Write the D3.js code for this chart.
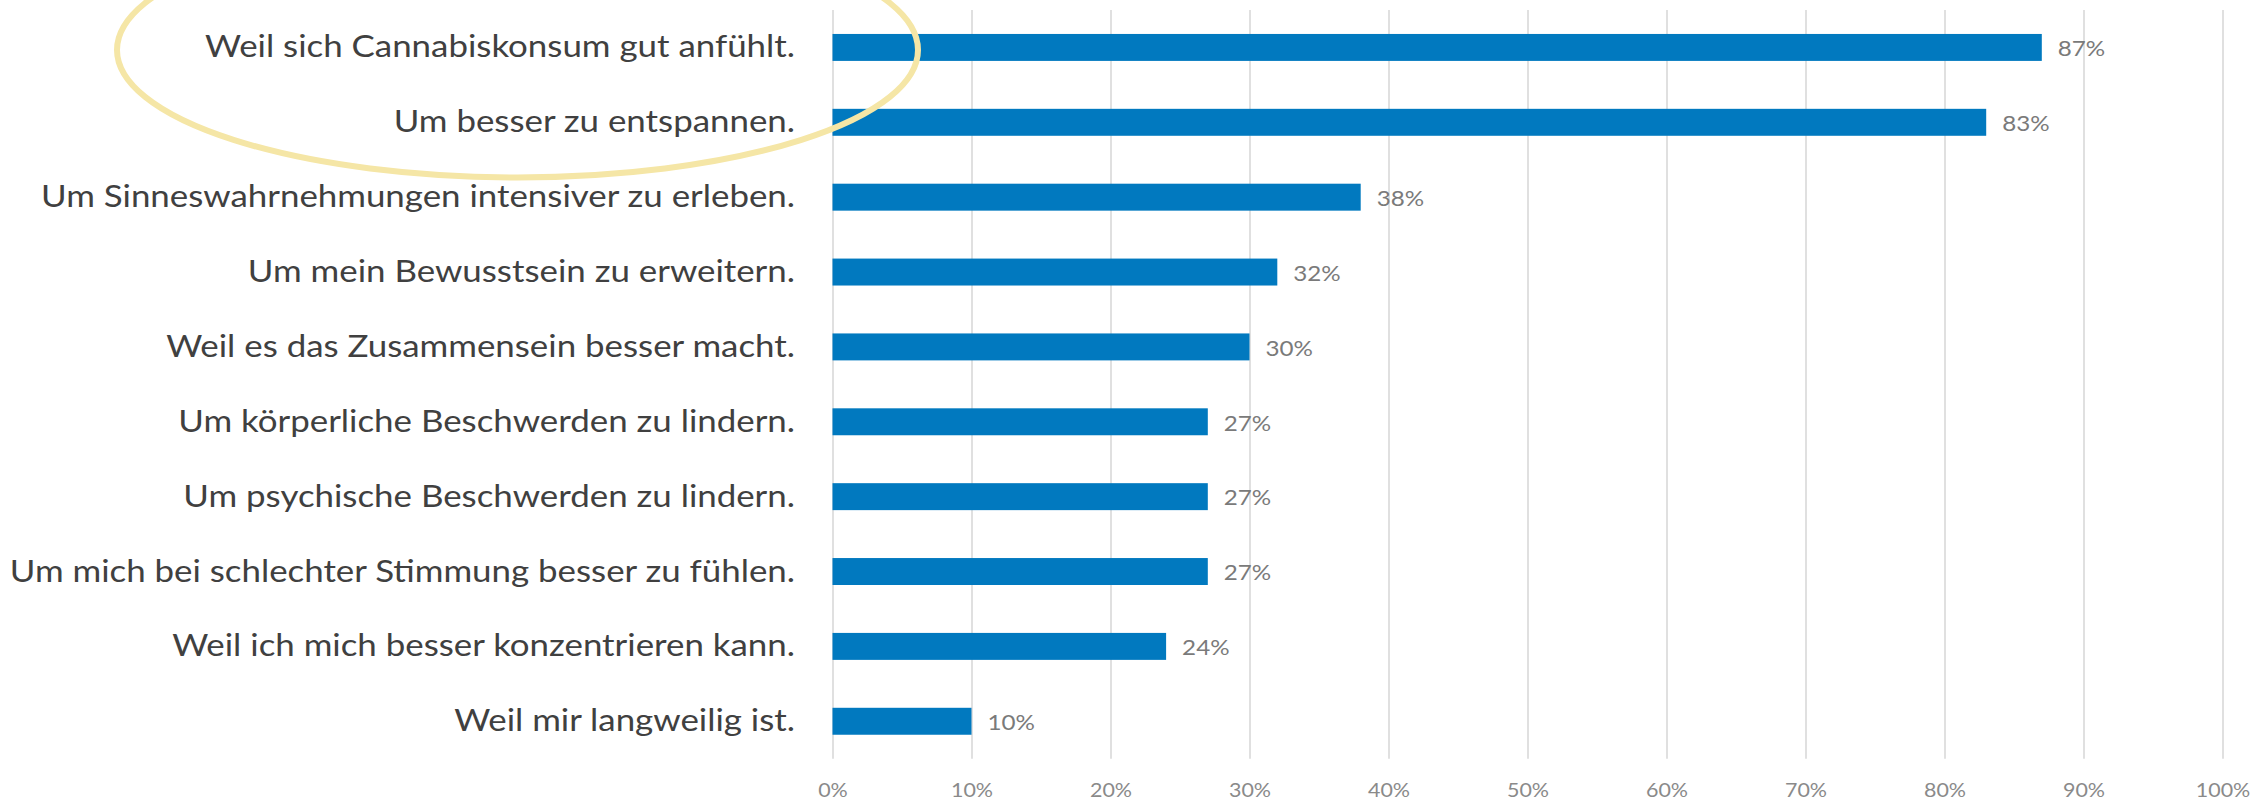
<!DOCTYPE html>
<html>
<head>
<meta charset="utf-8">
<script src="https://cdn.jsdelivr.net/npm/d3@7"></script>
<style>
  html, body { margin: 0; padding: 0; background: #ffffff; }
  svg { display: block; }
  text { font-family: Lato, "Open Sans", sans-serif; }
</style>
</head>
<body>
<svg id="chart" width="2264" height="801"></svg>
<script>
// Reasons for cannabis use, share of respondents (%)
const categories = [
  "Weil sich Cannabiskonsum gut anfühlt.",
  "Um besser zu entspannen.",
  "Um Sinneswahrnehmungen intensiver zu erleben.",
  "Um mein Bewusstsein zu erweitern.",
  "Weil es das Zusammensein besser macht.",
  "Um körperliche Beschwerden zu lindern.",
  "Um psychische Beschwerden zu lindern.",
  "Um mich bei schlechter Stimmung besser zu fühlen.",
  "Weil ich mich besser konzentrieren kann.",
  "Weil mir langweilig ist."
];
const values = [87, 83, 38, 32, 30, 27, 27, 27, 24, 10];
const xTicks = [0, 10, 20, 30, 40, 50, 60, 70, 80, 90, 100];

const svg = d3.select("#chart");

const plot = { left: 832.5, right: 2222.5, top: 10, bottom: 758.7 };

const x = d3.scaleLinear().domain([0, 100]).range([plot.left, plot.right]);
const y = d3.scaleBand()
  .domain(categories)
  .range([plot.top, plot.bottom])
  .paddingInner(0.64)
  .paddingOuter(0.32);

// Horizontal compression so the glyphs get a narrower, Calibri-like set width
const labelFont = 31.7;
const probe = svg.append("text")
  .attr("font-size", labelFont)
  .text(categories[0]);
const squeeze = 590 / probe.node().getComputedTextLength();
probe.remove();

// Vertical gridlines
const grid = svg.append("g")
  .attr("transform", `translate(0,${plot.top})`)
  .call(d3.axisBottom(x).tickValues(xTicks).tickSize(plot.bottom - plot.top).tickFormat(""));
grid.select(".domain").remove();
grid.selectAll("line").attr("stroke", "#d9d9d9").attr("stroke-width", 1.6);

// Bars
svg.append("g").selectAll("rect")
  .data(values)
  .join("rect")
  .attr("x", x(0))
  .attr("y", (d, i) => y(categories[i]))
  .attr("width", d => x(d) - x(0))
  .attr("height", y.bandwidth())
  .attr("fill", "#0179bf");

// Value labels
svg.append("g").selectAll("text")
  .data(values)
  .join("text")
  .attr("transform", (d, i) =>
    `translate(${x(d) + 16},${y(categories[i]) + y.bandwidth() / 2 + 8.8}) scale(${squeeze},1)`)
  .attr("font-size", 22)
  .attr("fill", "#7a7a7a")
  .text(d => d + "%");

// Category labels (y axis)
const yAxis = svg.append("g")
  .attr("transform", `translate(${plot.left},0)`)
  .call(d3.axisLeft(y).tickSize(0).tickPadding(0));
yAxis.select(".domain").remove();
yAxis.selectAll(".tick text")
  .attr("x", null).attr("dy", null)
  .attr("transform", `translate(-37.5,10) scale(${squeeze},1)`)
  .attr("text-anchor", "end")
  .attr("font-family", "Lato, 'Open Sans', sans-serif")
  .attr("font-size", labelFont)
  .attr("fill", "#404040");

// Percentage axis labels
const xAxis = svg.append("g")
  .attr("transform", `translate(0,${plot.bottom})`)
  .call(d3.axisBottom(x).tickValues(xTicks).tickSize(0).tickFormat(d => d + "%"));
xAxis.select(".domain").remove();
xAxis.selectAll(".tick text")
  .attr("y", null).attr("dy", null)
  .attr("transform", `translate(0,38.6) scale(${squeeze},1)`)
  .attr("font-family", "Lato, 'Open Sans', sans-serif")
  .attr("font-size", 19.5)
  .attr("fill", "#8a8a8a");

// Highlight ring around the top reason
const c0 = y(categories[0]) + y.bandwidth() / 2;
svg.append("ellipse")
  .attr("cx", 517.5)
  .attr("cy", c0 + 2.5)
  .attr("rx", 400.5)
  .attr("ry", 127.5)
  .attr("fill", "none")
  .attr("stroke", "#f5e6a6")
  .attr("stroke-width", 6);
</script>
</body>
</html>
